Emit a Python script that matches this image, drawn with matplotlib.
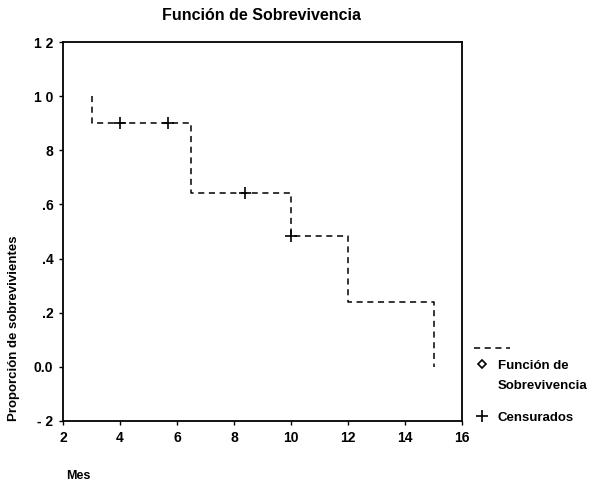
import matplotlib.pyplot as plt

plt.rcParams["font.family"] = ["Liberation Sans", "DejaVu Sans"]
plt.rcParams["font.weight"] = "bold"

# Kaplan-Meier estimate, months
event_times = [3.0, 6.5, 10.0, 12.0, 15.0]
survival = [1.0, 0.9, 0.643, 0.482, 0.241, 0.0]
censored_t = [4.0, 5.7, 8.4, 10.0]
censored_s = [0.9, 0.9, 0.643, 0.482]

xticks = [2, 4, 6, 8, 10, 12, 14, 16]
yticks = [-0.2, 0.0, 0.2, 0.4, 0.6, 0.8, 1.0, 1.2]
ytick_labels = ["- 2", "0.0", ".2", ".4", ".6", "8", "1 0", "1 2"]

fig = plt.figure(figsize=(5.9, 4.83), dpi=100)
ax = fig.add_axes([63 / 590, 62 / 483, 399 / 590, 379 / 483])

# step curve: vertical drop at each event time
xs = [event_times[0]]
ys = [survival[0]]
for i, t in enumerate(event_times):
    if i > 0:
        xs.append(t)
        ys.append(survival[i])
    xs.append(t)
    ys.append(survival[i + 1])
ax.plot(xs, ys, color="black", linestyle=(0, (4, 3)), linewidth=1.1)
ax.plot(censored_t, censored_s, linestyle="none", marker="+", markersize=9,
        markeredgewidth=1.2, color="black")

ax.set_xlim(2, 16)
ax.set_ylim(-0.2, 1.2)
ax.set_xticks(xticks)
ax.set_yticks(yticks)
ax.set_yticklabels(ytick_labels)
ax.tick_params(direction="out", length=3, width=1, labelsize=10, pad=4)
for spine in ax.spines.values():
    spine.set_linewidth(1.3)

fig.text(262 / 590, 1 - 16 / 483, "Función de Sobrevivencia", ha="center",
         va="center", fontsize=11.5, fontweight="bold")
fig.text(14 / 590, 1 - 328 / 483, "Proporción de sobrevivientes", rotation=90,
         ha="center", va="center", fontsize=9.5, fontweight="bold")
fig.text(66 / 590, 1 - 476 / 483, "Mes", ha="left", va="center",
         fontsize=9, fontweight="bold")

# legend drawn in pixel coordinates to the right of the plot
fig.text(498 / 590, 1 - 366 / 483, "Función de", fontsize=9.5, fontweight="bold",
         va="center")
fig.text(498 / 590, 1 - 386 / 483, "Sobrevivencia", fontsize=9.5, fontweight="bold",
         va="center")
fig.text(498 / 590, 1 - 418 / 483, "Censurados", fontsize=9.5, fontweight="bold",
         va="center")
leg_ax = fig.add_axes([0, 0, 1, 1], facecolor="none")
leg_ax.set_xlim(0, 590)
leg_ax.set_ylim(483, 0)
leg_ax.axis("off")
leg_ax.plot([474, 510], [348, 348], color="black", linestyle=(0, (4, 3)), linewidth=1.1)
leg_ax.plot([482], [364], linestyle="none", marker="D", markersize=4,
            markerfacecolor="white", markeredgecolor="black", markeredgewidth=1.2)
leg_ax.plot([482], [416], linestyle="none", marker="+", markersize=8,
            markeredgewidth=1.2, color="black")

fig.savefig("out.png", dpi=100)
